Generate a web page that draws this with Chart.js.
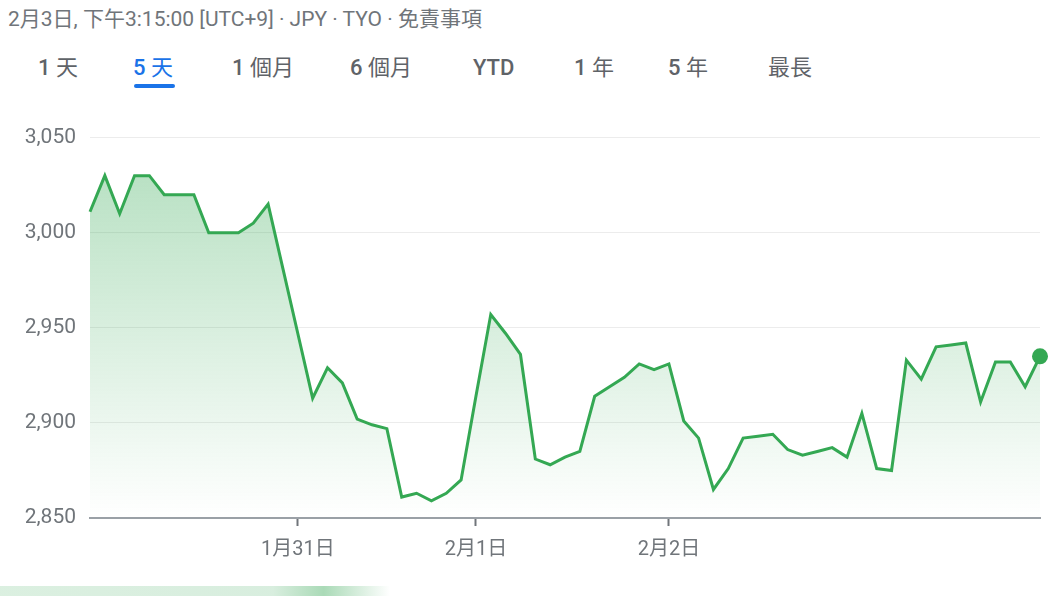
<!DOCTYPE html>
<html>
<head>
<meta charset="utf-8">
<script src="https://cdn.jsdelivr.net/npm/chart.js@4.4.1/dist/chart.umd.min.js"></script>
<style>
    html, body { margin: 0; padding: 0; background: #fff; }
    body { width: 1060px; height: 596px; position: relative; overflow: hidden;
           font-family: Roboto, "Noto Sans CJK TC", "Noto Sans", sans-serif; }
    #header { position: absolute; left: 8px; top: 5px; font-size: 21px; line-height: 28px; color: #70757a; white-space: nowrap; }
    .tab { position: absolute; top: 53px; font-size: 22px; line-height: 30px; color: #5f6368; white-space: nowrap; }
    .tab b { font-weight: 500; }
    .tab.sel { color: #1a73e8; }
    #underline { position: absolute; left: 134px; top: 84px; width: 41px; height: 4px; border-radius: 2px; background: #1a73e8; }
    #wrap { position: absolute; left: 0; top: 111px; width: 1060px; height: 459px; }
    #bottomBar { position: absolute; left: 0; top: 586px; width: 390px; height: 10px;
                 background: linear-gradient(to right, rgba(215,238,221,0.9) 0%, rgba(212,236,219,0.9) 70%, rgba(170,218,183,1) 83%, rgba(255,255,255,0) 100%); }
</style>
</head>
<body>
<div id="header">2月3日, 下午3:15:00 [UTC+9] · JPY · TYO · 免責事項</div>
<div class="tab" style="left:38px"><b>1</b> 天</div>
<div class="tab sel" style="left:133px"><b>5</b> 天</div>
<div class="tab" style="left:232px"><b>1</b> 個月</div>
<div class="tab" style="left:350px"><b>6</b> 個月</div>
<div class="tab" style="left:473px"><b>YTD</b></div>
<div class="tab" style="left:574px"><b>1</b> 年</div>
<div class="tab" style="left:668px"><b>5</b> 年</div>
<div class="tab" style="left:768px">最長</div>
<div id="underline"></div>
<div id="wrap"><canvas id="priceChart"></canvas></div>
<div id="bottomBar"></div>

<script>
//################# Data #################
const prices = [
    3011, 3030, 3010, 3030, 3030, 3020, 3020, 3020, 3000, 3000,
    3000, 3005, 3015, 2981, 2947, 2913, 2929, 2921, 2902, 2899,
    2897, 2861, 2863, 2859, 2863, 2870, 2914, 2957, 2947, 2936,
    2881, 2878, 2882, 2885, 2914, 2919, 2924, 2931, 2928, 2931,
    2901, 2892, 2865, 2876, 2892, 2893, 2894, 2886, 2883, 2885,
    2887, 2882, 2905, 2876, 2875, 2933, 2923, 2940, 2941, 2942,
    2911, 2932, 2932, 2919, 2935
];
const tickLabels = ['1月31日', '2月1日', '2月2日'];
const tickIndexes = [14, 26, 39];
const yTicks = [2850, 2900, 2950, 3000, 3050];

const lineGreen = '#34a853';

//################# Create the chart #################
const ctx = document.getElementById('priceChart');

const priceChart = new Chart(ctx, {
    type: 'line',
    data: {
        datasets: [
            {
                data: prices.map((v, i) => ({ x: i, y: v })),
                borderColor: lineGreen,
                borderWidth: 3,
                tension: 0,
                fill: 'start',
                backgroundColor: (c) => {
                    const area = c.chart.chartArea;
                    if (!area) return 'rgba(52, 168, 83, 0.2)';
                    const g = c.chart.ctx.createLinearGradient(0, area.top, 0, area.bottom);
                    g.addColorStop(0, 'rgba(52, 168, 83, 0.38)');
                    g.addColorStop(1, 'rgba(52, 168, 83, 0)');
                    return g;
                },
                pointRadius: prices.map((v, i) => i === prices.length - 1 ? 8 : 0),
                pointHoverRadius: 0,
                pointBackgroundColor: lineGreen,
                pointBorderWidth: 0,
                clip: false,
            },
        ],
    },
    options: {
        responsive: true,
        maintainAspectRatio: false,
        animation: false,
        layout: { padding: { top: 0, right: 20, left: 0, bottom: 0 } },
        plugins: { legend: { display: false }, tooltip: { enabled: false } },
        scales: {
            x: {
                type: 'linear',
                min: 0,
                max: prices.length - 1,
                afterBuildTicks: (axis) => { axis.ticks = tickIndexes.map(v => ({ value: v })); },
                afterFit: (axis) => { axis.height = 52; },
                border: { display: true, color: '#9aa0a6', width: 2 },
                grid: { drawOnChartArea: false, drawTicks: true, tickLength: 8, tickColor: '#70757a', tickWidth: 2 },
                ticks: {
                    autoSkip: false,
                    maxRotation: 0,
                    padding: 12,
                    color: '#70757a',
                    font: { size: 20, family: 'Roboto, "Noto Sans CJK TC", sans-serif' },
                    callback: (v) => tickLabels[tickIndexes.indexOf(v)],
                },
            },
            y: {
                min: 2850,
                max: 3050,
                afterBuildTicks: (axis) => { axis.ticks = yTicks.map(v => ({ value: v })); },
                afterFit: (axis) => { axis.width = 90; },
                border: { display: false },
                grid: { color: '#ececec', lineWidth: 1, drawTicks: false },
                ticks: {
                    padding: 14,
                    color: '#70757a',
                    font: { size: 21, family: 'Roboto, sans-serif' },
                    callback: (v) => v.toLocaleString('en-US'),
                },
            },
        },
    },
});
</script>
</body>
</html>
